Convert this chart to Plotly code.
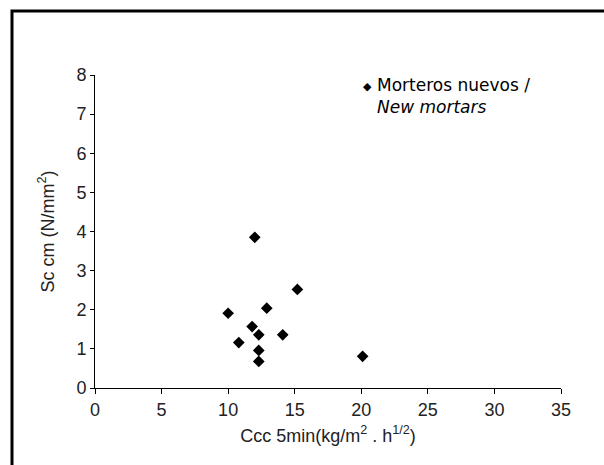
import plotly.graph_objects as go

# Data
ccc_5min = [12.0, 15.2, 10.0, 12.9, 11.8, 12.3, 14.1, 10.8, 12.3, 12.3, 20.1]
sc_cm = [3.85, 2.52, 1.91, 2.04, 1.57, 1.36, 1.36, 1.16, 0.96, 0.68, 0.81]
x_ticks = [0, 5, 10, 15, 20, 25, 30, 35]
y_ticks = [0, 1, 2, 3, 4, 5, 6, 7, 8]
series_name = "Morteros nuevos /"
series_name_en = "New mortars"

W, H = 604, 465
ml, mr, mt, mb = 95, 43, 75, 77
pw = W - ml - mr
ph = H - mt - mb

def px_x(p):
    return (p - ml) / pw

def px_y(p):
    return (H - mb - p) / ph

fig = go.Figure()
fig.add_trace(go.Scatter(
    x=ccc_5min, y=sc_cm, mode="markers",
    marker=dict(symbol="diamond", size=9, color="black"),
    name=series_name, showlegend=False, cliponaxis=False,
))

tick_font = dict(family="Liberation Sans, Arial", size=18, color="#222")
title_font = dict(family="Liberation Sans, Arial", size=18, color="#222")
fig.update_layout(
    width=W, height=H,
    margin=dict(l=ml, r=mr, t=mt, b=mb),
    paper_bgcolor="white", plot_bgcolor="white",
    xaxis=dict(
        range=[0, 35], tickvals=x_ticks, showgrid=False, zeroline=False,
        showline=True, linecolor="black", linewidth=1,
        ticks="outside", ticklen=5, tickcolor="black", tickfont=tick_font,
        title=dict(text="Ccc 5min(kg/m<sup>2</sup> . h<sup>1/2</sup>)", font=title_font, standoff=10),
    ),
    yaxis=dict(
        range=[0, 8], tickvals=y_ticks, showgrid=False, zeroline=False,
        showline=True, linecolor="black", linewidth=1,
        ticks="outside", ticklen=4, tickcolor="black", tickfont=tick_font,
        title=dict(text="Sc cm (N/mm<sup>2</sup>)", font=title_font, standoff=17),
    ),
    font=dict(family="Liberation Sans, Arial"),
)

# outer frame
fig.add_shape(type="rect", xref="paper", yref="paper",
              x0=px_x(12), x1=px_x(640), y0=px_y(500), y1=px_y(11),
              line=dict(color="black", width=3), layer="above")

legend_font = dict(family="DejaVu Sans", size=17, color="black")
fig.add_annotation(xref="paper", yref="paper", x=px_x(367), y=px_y(86),
                   text="◆", showarrow=False, xanchor="center", yanchor="middle",
                   font=dict(family="DejaVu Sans", size=11, color="black"))
fig.add_annotation(xref="paper", yref="paper", x=px_x(375), y=px_y(73),
                   text=series_name + "<br><i>" + series_name_en + "</i>",
                   showarrow=False, xanchor="left", yanchor="top", align="left",
                   font=legend_font)

fig.write_html("out.html")
